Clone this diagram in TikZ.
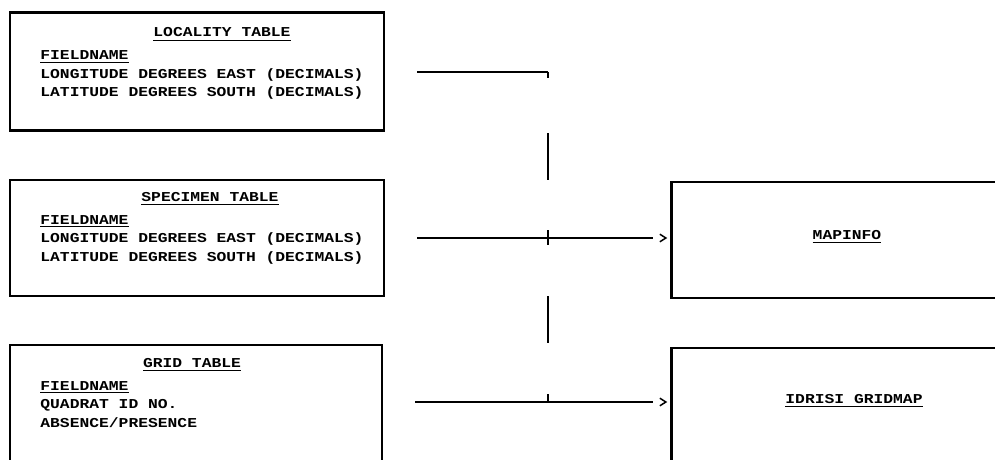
\documentclass[tikz,border=0pt]{standalone}
\usepackage{fontspec}
\setmonofont{Liberation Mono}[FakeStretch=1.2]
\usetikzlibrary{positioning, arrows.meta, decorations.markings}

\newcommand{\tabfont}{\fontsize{6.8}{9.25}\selectfont\ttfamily\bfseries}

\tikzset{
    tablebox/.style={draw, line width=1.25pt, inner sep=0pt, minimum width=187pt, minimum height=58pt},
    toolbox/.style={draw, line width=1.25pt, inner sep=0pt, minimum width=174.5pt, minimum height=58pt},
    tabletitle/.style={anchor=base, inner sep=0pt, font=\tabfont},
    fieldlist/.style={anchor=base west, inner sep=0pt, align=left, font=\tabfont},
    link/.style={line width=0.75pt},
    feed/.style={link, shorten <=16pt, shorten >=8.5pt,
        decoration={markings, mark=at position -1.5pt with {\arrow{Straight Barb[length=3pt, width=3.8pt]}}},
        postaction={decorate}},
}

\begin{document}
\begin{tikzpicture}[x=0.5pt, y=-0.5pt]
\useasboundingbox (0,0) rectangle (995,460);

% source tables
\node[tablebox, minimum height=59pt] (locality) at (197,71.5) {};
\node[tablebox] (specimen) at (197,238) {};
\node[tablebox, minimum width=186pt, minimum height=60pt] (grid) at (196,405) {};

\node[tabletitle] (localitytitle) at (222,37) {\underline{LOCALITY TABLE}};
\node[fieldlist] (localityfields) at (40,97) {\underline{FIELDNAME}\\LONGITUDE DEGREES EAST (DECIMALS)\\LATITUDE DEGREES SOUTH (DECIMALS)};
\node[tabletitle] (specimentitle) at (210,201) {\underline{SPECIMEN TABLE}};
\node[fieldlist] (specimenfields) at (40,261) {\underline{FIELDNAME}\\LONGITUDE DEGREES EAST (DECIMALS)\\LATITUDE DEGREES SOUTH (DECIMALS)};
\node[tabletitle] (gridtitle) at (192,367) {\underline{GRID TABLE}};
\node[fieldlist] (gridfields) at (40,427) {\underline{FIELDNAME}\\QUADRAT ID NO.\\ABSENCE/PRESENCE};

% targets
\node[toolbox] (mapinfo) at (846,240) {};
\node[toolbox, minimum height=61pt] (idrisi) at (846,409) {};
\node[tabletitle] (mapinfotitle) at (847,239) {\underline{MAPINFO}};
\node[tabletitle] (idrisititle) at (854,403) {\underline{IDRISI GRIDMAP}};

% connectors
\coordinate (jtop) at (548,72);
\coordinate (jbot) at (548,402);
\draw[link, shorten <=16pt] (locality.east |- jtop) -- (jtop);
\draw[link, line width=0.6pt, dash pattern=on 3pt off 27.5pt on 23.5pt off 25pt on 7.5pt off 25.5pt on 23.5pt off 25.5pt on 4pt] (jtop) -- (jbot);
\draw[feed] (specimen.east) -- (mapinfo.west |- specimen.east);
\draw[feed] (grid.east |- jbot) -- (idrisi.west |- jbot);
\end{tikzpicture}
\end{document}
